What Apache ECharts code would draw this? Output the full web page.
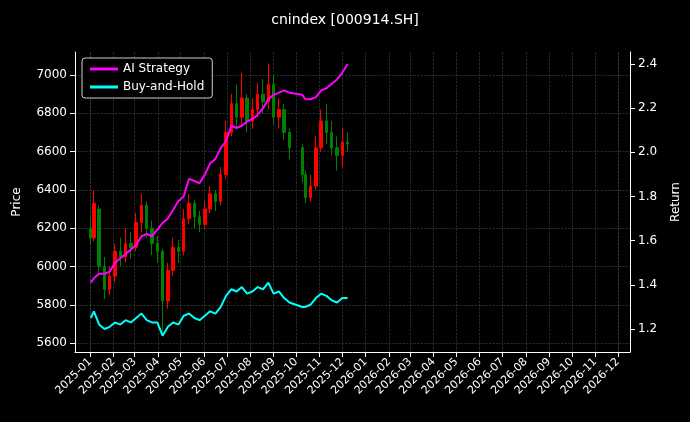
<!DOCTYPE html>
<html><head><meta charset="utf-8">
<script src="https://cdn.jsdelivr.net/npm/echarts@6/dist/echarts.min.js"></script>
<style>html,body{margin:0;background:#000}#c{width:690px;height:422px}</style>
</head><body><div id="c"></div>
<script>
const dates=['2025-01-02','2025-01-06','2025-01-13','2025-01-20','2025-01-27','2025-02-03','2025-02-10','2025-02-17','2025-02-24','2025-03-03','2025-03-10','2025-03-17','2025-03-24','2025-03-31','2025-04-07','2025-04-14','2025-04-21','2025-04-28','2025-05-05','2025-05-12','2025-05-19','2025-05-26','2025-06-02','2025-06-09','2025-06-16','2025-06-23','2025-06-30','2025-07-07','2025-07-14','2025-07-21','2025-07-28','2025-08-04','2025-08-11','2025-08-18','2025-08-25','2025-09-01','2025-09-08','2025-09-15','2025-09-22','2025-10-09','2025-10-13','2025-10-20','2025-10-27','2025-11-03','2025-11-10','2025-11-17','2025-11-24','2025-12-01','2025-12-08'];
const open =[6200,6150,6300,6000,5880,5950,6080,6050,6120,6100,6230,6320,6200,6120,6080,5820,5980,6100,6080,6250,6330,6260,6220,6300,6380,6340,6480,6700,6850,6780,6880,6760,6820,6900,6860,6950,6780,6820,6700,6620,6480,6360,6420,6620,6760,6700,6620,6580,6650];
const close=[6150,6330,6000,5880,5950,6080,6050,6120,6100,6230,6320,6200,6120,6080,5820,5980,6100,6080,6250,6330,6260,6220,6300,6380,6340,6480,6700,6850,6780,6880,6760,6820,6900,6860,6950,6780,6820,6700,6620,6480,6360,6420,6620,6760,6700,6620,6580,6650,6640];
const low  =[6120,6130,5960,5830,5850,5920,6000,6020,6040,6080,6180,6150,6060,6020,5660,5780,5950,6020,6060,6220,6200,6180,6200,6280,6290,6320,6460,6680,6720,6740,6700,6720,6780,6800,6820,6740,6720,6660,6560,6440,6330,6340,6400,6600,6640,6580,6500,6520,6600];
const high =[6260,6400,6320,6050,6000,6120,6150,6200,6180,6280,6380,6340,6240,6160,6090,6020,6150,6140,6300,6380,6350,6290,6340,6420,6400,6520,6760,6900,6950,7010,6900,6880,6960,6980,7060,7000,6880,6850,6720,6640,6500,6480,6680,6820,6850,6760,6680,6720,6700];
const strategy=[1.41,1.43,1.45,1.45,1.46,1.50,1.52,1.54,1.56,1.58,1.62,1.63,1.62,1.65,1.68,1.70,1.74,1.78,1.80,1.88,1.87,1.86,1.90,1.95,1.97,2.02,2.05,2.12,2.11,2.12,2.14,2.15,2.17,2.20,2.24,2.26,2.27,2.28,2.27,2.26,2.24,2.24,2.25,2.28,2.29,2.31,2.33,2.36,2.40];
const buyHold=[1.25,1.28,1.22,1.20,1.21,1.23,1.22,1.24,1.23,1.25,1.27,1.24,1.23,1.23,1.17,1.21,1.23,1.22,1.26,1.27,1.25,1.24,1.26,1.28,1.27,1.30,1.35,1.38,1.37,1.39,1.36,1.37,1.39,1.38,1.41,1.36,1.37,1.34,1.32,1.30,1.30,1.31,1.34,1.36,1.35,1.33,1.32,1.34,1.34];
const priceTicks=[5600,5800,6000,6200,6400,6600,6800,7000];
const returnTicks=[1.2,1.4,1.6,1.8,2.0,2.2,2.4];
const monthTicks=[];
for(let y=2025;y<=2026;y++)for(let m=1;m<=12;m++)monthTicks.push(new Date(y,m-1,1).getTime());

const candles=dates.map((d,i)=>[d,open[i],close[i],low[i],high[i]]);
const ch=echarts.init(document.getElementById('c'));
const font="DejaVu Sans";
ch.setOption({
  backgroundColor:'#000',
  animation:false,
  textStyle:{fontFamily:font},
  title:{text:'cnindex [000914.SH]',left:'center',top:8,textStyle:{color:'#fff',fontSize:14,fontWeight:'normal',fontFamily:font}},
  legend:{left:82,top:58,orient:'vertical',backgroundColor:'#000',borderColor:'#ccc',borderWidth:1,borderRadius:3,padding:[5,8],itemGap:6,itemWidth:28,itemHeight:3,
    textStyle:{color:'#fff',fontSize:12},data:[{name:'AI Strategy',icon:'rect'},{name:'Buy-and-Hold',icon:'rect'}]},
  grid:{left:75,right:60,top:52,bottom:70},
  xAxis:{type:'time',min:'2024-12-12',max:'2026-12-17',
    axisLine:{show:true,lineStyle:{color:'#fff'}},
    axisTick:{show:true,customValues:monthTicks,lineStyle:{color:'#fff'}},
    axisLabel:{show:true,customValues:monthTicks,rotate:45,color:'#fff',fontSize:11,formatter:'{yyyy}-{MM}'},
    splitLine:{show:true,lineStyle:{color:'#444',type:'dashed',width:0.6}}},
  yAxis:[{type:'value',min:5554,max:7120,name:'Price',nameLocation:'middle',nameGap:52,nameTextStyle:{color:'#fff',fontSize:12},
    axisLine:{show:true,lineStyle:{color:'#fff'}},
    axisTick:{show:true,customValues:priceTicks,lineStyle:{color:'#fff'}},
    axisLabel:{customValues:priceTicks,color:'#fff',fontSize:12,formatter:v=>String(Math.round(v))},
    splitLine:{show:true,lineStyle:{color:'#444',type:'dashed',width:0.6}}},
   {type:'value',min:1.096,max:2.454,name:'Return',nameLocation:'middle',nameGap:40,nameTextStyle:{color:'#fff',fontSize:12},
    axisLine:{show:true,lineStyle:{color:'#fff'}},
    axisTick:{show:true,customValues:returnTicks,lineStyle:{color:'#fff'}},
    axisLabel:{customValues:returnTicks,color:'#fff',fontSize:12,formatter:v=>v.toFixed(1)},
    splitLine:{show:false}}],
  series:[
    {type:'candlestick',name:'Price',yAxisIndex:0,data:candles,barWidth:3,
     itemStyle:{color:'#ff0000',color0:'#008000',borderColor:'#ff0000',borderColor0:'#008000'}},
    {type:'line',name:'AI Strategy',yAxisIndex:1,data:dates.map((d,i)=>[d,strategy[i]]),showSymbol:false,lineStyle:{color:'#ff00ff',width:2},itemStyle:{color:'#ff00ff'}},
    {type:'line',name:'Buy-and-Hold',yAxisIndex:1,data:dates.map((d,i)=>[d,buyHold[i]]),showSymbol:false,lineStyle:{color:'#00ffff',width:2},itemStyle:{color:'#00ffff'}}
  ]
});
</script></body></html>
